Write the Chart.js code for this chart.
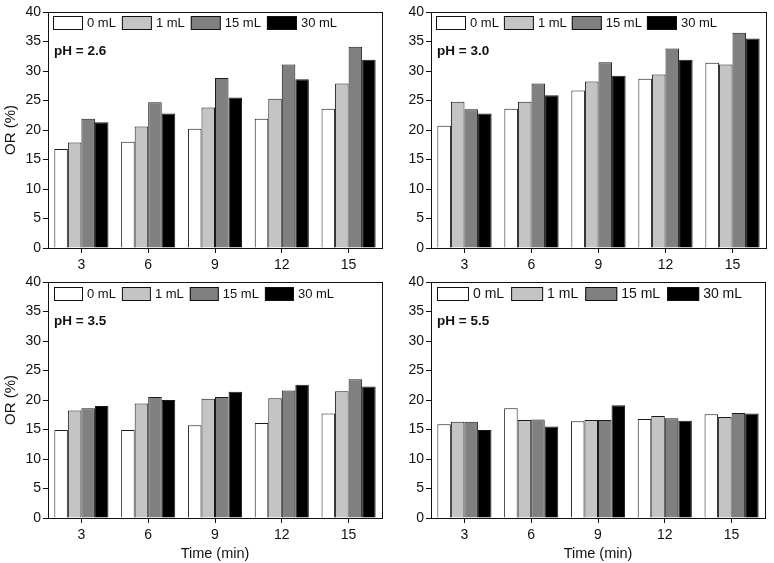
<!DOCTYPE html>
<html>
<head>
<meta charset="utf-8">
<script src="https://cdn.jsdelivr.net/npm/chart.js@4"></script>
<style>
  body { margin: 0; background: #fff; }
  #wrap { position: relative; width: 774px; height: 563px; }
  canvas { position: absolute; }
</style>
</head>
<body>
<div id="wrap">
  <canvas id="c1" width="387" height="270" style="left:0;top:0"></canvas>
  <canvas id="c2" width="387" height="270" style="left:387px;top:0"></canvas>
  <canvas id="c3" width="387" height="293" style="left:0;top:270px"></canvas>
  <canvas id="c4" width="387" height="293" style="left:387px;top:270px"></canvas>
</div>
<script>
const times = ['3', '6', '9', '12', '15'];
const seriesLabels = ['0 mL', '1 mL', '15 mL', '30 mL'];
const seriesColors = ['#ffffff', '#c4c4c4', '#808080', '#000000'];

// OR (%) per panel, one array per dose
const ph26_0 = [16.8, 18.0, 20.2, 21.9, 23.6];
const ph26_1 = [17.9, 20.6, 23.8, 25.3, 27.9];
const ph26_15 = [21.9, 24.7, 28.8, 31.1, 34.1];
const ph26_30 = [21.3, 22.8, 25.5, 28.6, 31.9];

const ph30_0 = [20.7, 23.6, 26.7, 28.7, 31.4];
const ph30_1 = [24.8, 24.8, 28.2, 29.4, 31.1];
const ph30_15 = [23.5, 27.9, 31.5, 33.8, 36.5];
const ph30_30 = [22.8, 25.9, 29.2, 31.9, 35.5];

const ph35_0 = [14.9, 14.9, 15.7, 16.1, 17.7];
const ph35_1 = [18.2, 19.4, 20.2, 20.3, 21.5];
const ph35_15 = [18.6, 20.5, 20.5, 21.6, 23.5];
const ph35_30 = [19.0, 20.0, 21.4, 22.6, 22.3];

const ph55_0 = [15.9, 18.6, 16.4, 16.8, 17.6];
const ph55_1 = [16.3, 16.6, 16.6, 17.3, 17.1];
const ph55_15 = [16.3, 16.7, 16.6, 16.9, 17.8];
const ph55_30 = [14.9, 15.5, 19.1, 16.5, 17.7];

const yTicks = { min: 0, max: 40, step: 5 };

// frame around the plot area
const framePlugin = {
  id: 'frame',
  afterDraw(chart) {
    const a = chart.chartArea, ctx = chart.ctx;
    ctx.save();
    ctx.strokeStyle = '#111';
    ctx.lineWidth = 1;
    ctx.strokeRect(Math.round(a.left) + 0.5, Math.round(a.top) + 0.5,
      Math.round(a.right - a.left), Math.round(a.bottom - a.top));
    ctx.restore();
  }
};

// legend + pH note drawn inside the plot area
const insetPlugin = {
  id: 'inset',
  afterDraw(chart, args, opts) {
    const a = chart.chartArea, ctx = chart.ctx;
    ctx.save();
    ctx.font = opts.fontSize + 'px "Liberation Sans", Arial, sans-serif';
    ctx.textBaseline = 'middle';
    let x = a.left + opts.x;
    const y = a.top + opts.y;
    chart.data.datasets.forEach(ds => {
      ctx.fillStyle = ds.backgroundColor;
      ctx.fillRect(x, y, opts.boxW, 14);
      ctx.strokeStyle = '#111';
      ctx.lineWidth = 1;
      ctx.strokeRect(x + 0.5, y + 0.5, opts.boxW - 1, 13);
      x += opts.boxW + 4;
      ctx.fillStyle = '#111';
      ctx.fillText(ds.label, x, y + 7.5);
      x += ctx.measureText(ds.label).width + opts.gap;
    });
    ctx.font = 'bold 13.5px "Liberation Sans", Arial, sans-serif';
    ctx.fillText(opts.note, a.left + 6, a.top + 39);
    ctx.restore();
  }
};

function makePanel(id, values, note, p) {
  const ctx = document.getElementById(id).getContext('2d');
  const canvas = ctx.canvas;
  new Chart(ctx, {
    type: 'bar',
    data: {
      labels: times,
      datasets: seriesLabels.map((lab, i) => ({
        label: lab,
        data: values[i],
        backgroundColor: seriesColors[i],
        borderColor: '#1a1a1a',
        borderWidth: 1,
        categoryPercentage: 0.81,
        barPercentage: 1.0
      }))
    },
    options: {
      responsive: false,
      animation: false,
      devicePixelRatio: 1,
      layout: { padding: { top: p.top, right: canvas.width - p.right, left: 0, bottom: 0 } },
      plugins: {
        legend: { display: false },
        tooltip: { enabled: false },
        inset: { note: note, x: p.lx, y: p.ly, boxW: p.boxW, gap: p.gap, fontSize: p.lf }
      },
      scales: {
        x: {
          offset: true,
          grid: { drawOnChartArea: false, tickLength: 5, color: '#111', offset: false },
          border: { color: '#111', width: 1 },
          ticks: { color: '#111', font: { family: '"Liberation Sans", Arial', size: 14 }, padding: 4 },
          title: {
            display: p.xTitle, text: 'Time (min)', color: '#111',
            font: { family: '"Liberation Sans", Arial', size: 14.5 }, padding: { top: 0, bottom: 0 }
          },
          afterFit(s) { s.height = canvas.height - p.bottom; }
        },
        y: {
          min: yTicks.min, max: yTicks.max,
          grid: { drawOnChartArea: false, tickLength: 5, color: '#111' },
          border: { color: '#111', width: 1 },
          ticks: { stepSize: yTicks.step, color: '#111', font: { family: '"Liberation Sans", Arial', size: 14 }, padding: 2 },
          title: {
            display: p.yTitle, text: 'OR (%)', color: '#111',
            font: { family: '"Liberation Sans", Arial', size: 15 }, padding: { top: 2, bottom: 0 }
          },
          afterFit(s) { s.width = p.left; }
        }
      }
    },
    plugins: [framePlugin, insetPlugin]
  });
}

makePanel('c1', [ph26_0, ph26_1, ph26_15, ph26_30], 'pH = 2.6',
  { left: 48, right: 382, top: 12, bottom: 248, yTitle: true, xTitle: false, lx: 5, ly: 4, boxW: 30, gap: 6, lf: 13 });
makePanel('c2', [ph30_0, ph30_1, ph30_15, ph30_30], 'pH = 3.0',
  { left: 44, right: 379, top: 12, bottom: 248, yTitle: false, xTitle: false, lx: 5, ly: 4, boxW: 30, gap: 5, lf: 13 });
makePanel('c3', [ph35_0, ph35_1, ph35_15, ph35_30], 'pH = 3.5',
  { left: 48, right: 382, top: 12, bottom: 248, yTitle: true, xTitle: true, lx: 6, ly: 5, boxW: 29, gap: 6, lf: 13 });
makePanel('c4', [ph55_0, ph55_1, ph55_15, ph55_30], 'pH = 5.5',
  { left: 44, right: 378, top: 12, bottom: 248, yTitle: false, xTitle: true, lx: 6, ly: 5, boxW: 32, gap: 7, lf: 14 });
</script>
</body>
</html>
